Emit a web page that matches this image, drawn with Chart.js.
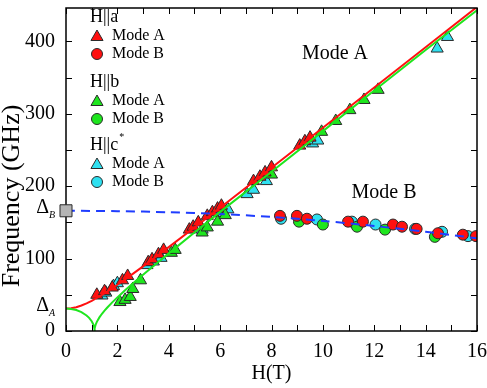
<!DOCTYPE html>
<html>
<head>
<meta charset="utf-8">
<script src="https://cdn.jsdelivr.net/npm/chart.js@4/dist/chart.umd.min.js"></script>
<style>
html,body{margin:0;padding:0;background:#fff}
#probe{font-family:'Liberation Serif';position:absolute;left:-999px;top:0}
</style>
</head>
<body>
<span id="probe">Mode A 0123</span>
<canvas id="chart" width="487" height="388"></canvas>
<script>

const FONT = "'Liberation Serif', 'Times New Roman', Tinos, 'DejaVu Serif', serif"

// H||a
const aModeA_H = [1.2,1.5,1.8,2.2,2.4,3.2,3.35,3.6,3.8,4.8,4.95,5.15,5.5,5.7,5.9,6.05,7.3,7.55,7.75,8.0,9.1,9.3,9.5]
const aModeA_F = [50,55,60,70,76,95,99,106,112,140,144,150,159,164,169,173,207,213,219,226,256,262,267]
const aModeB_H = [8.33,8.99,9.38,10.98,11.56,12.73,13.08,13.65,14.48,15.45,15.96]
const aModeB_F = [159,159,155,151,151,147,144,141,135,133,131]

// H||b
const bModeA_H = [2.1,2.3,2.5,2.6,2.9,4.1,4.25,5.3,5.5,5.9,6.2,8.0,9.95,10.5,11.05,11.6,12.15]
const bModeA_F = [40,43,47,58,70,108,112,136,143,151,160,216,275,290,305,319,333]
const bModeB_H = [9.07,10.0,11.33,12.42,14.36]
const bModeB_F = [151,147,144,140,130]

// H||c*
const cModeA_H = [1.4,1.55,1.85,2.0,3.15,3.4,3.7,5.3,6.0,6.3,7.05,7.3,7.8,9.6,9.8,14.45,14.85]
const cModeA_F = [49,53,62,66,91,96,101,140,163,168,189,195,207,259,263,390,406]
const cModeB_H = [8.37,9.77,11.13,12.05,13.59,14.64,15.65]
const cModeB_F = [155,154,151,147,141,137,131]

// fitted curves
const redFit_H = [0,0.2,0.4,0.6,0.8,1.0,1.2,1.4,1.6,1.8,2.0,2.3,2.6,3,3.5,4,5,6,8,10,12,14,16]
const redFit_F = [31,31.5,32.9,35.2,38.2,41.7,45.6,49.9,54.3,59,63.8,71.3,78.9,89.2,102.5,115.8,142.9,170.2,225.3,280.7,336.2,391.8,447.4]
const greenFit_H = [0,0.2,0.4,0.6,0.8,0.9,1.0,1.05,1.08,1.1,1.111,1.12,1.15,1.2,1.3,1.4,1.5,1.6,1.8,2.0,2.3,2.6,3,3.5,4,5,6,8,10,12,14,16]
const greenFit_F = [31,30.5,28.9,26.1,21.5,18.2,13.5,10.1,7.3,4.4,0,3.9,8.3,12.6,18.8,23.8,28.1,32.1,39.5,46.4,56.2,65.6,77.7,92.6,107.2,136,164.5,220,276,332,388,443]
const blueFit_H = [0,2,4,6,8,10,12,14,16]
const blueFit_F = [166,165.5,164,161.5,157.5,152,145,137,128]

const deltaA = 31
const deltaB = 166

const xLabels = [0,2,4,6,8,10,12,14,16]
const yLabels = [0,100,200,300,400]

const RED = '#ff1010'
const GREEN = '#1ee61e'
const CYAN = '#2ee0f0'
const BLUE = '#1f3dff'
const EDGE = '#2a2a2a'

function pts(xs,ys){
return xs.map((x,i)=>({x:x,y:ys[i]}))
}

function markers(label,xs,ys,color,style,r){
return {
label:label,
data:pts(xs,ys),
backgroundColor:color,
borderColor:EDGE,
borderWidth:1,
pointStyle:style,
pointRadius:r,
showLine:false,
order:2
}
}

function curve(label,xs,ys,color,dash,tension){
return {
label:label,
data:pts(xs,ys),
borderColor:color,
borderWidth:2,
borderDash:dash,
pointRadius:0,
showLine:true,
tension:tension,
fill:false,
order:1
}
}

function drawMarker(ctx,style,color,x,y,r){
ctx.fillStyle = color
ctx.strokeStyle = EDGE
ctx.lineWidth = 1
Chart.helpers.drawPoint(ctx,{pointStyle:style,radius:r,rotation:0,borderWidth:1},x,y)
}

const decor = {
id:'decor',
afterDatasetsDraw(chart){
const ctx = chart.ctx
const a = chart.chartArea
const x = chart.scales.x
const y = chart.scales.y
ctx.save()
ctx.strokeStyle = '#000'
ctx.lineWidth = 1
for(let v=0; v<=16; v++){
let px = Math.round(x.getPixelForValue(v))+0.5
ctx.beginPath()
ctx.moveTo(px,a.bottom); ctx.lineTo(px,a.bottom-6)
ctx.moveTo(px,a.top); ctx.lineTo(px,a.top+6)
ctx.stroke()
}
for(let v=0; v<=y.max; v+=50){
let py = Math.round(y.getPixelForValue(v))+0.5
ctx.beginPath()
ctx.moveTo(a.left,py); ctx.lineTo(a.left+6,py)
ctx.moveTo(a.right,py); ctx.lineTo(a.right-6,py)
ctx.stroke()
}
ctx.lineWidth = 1.5
ctx.strokeRect(a.left,a.top,a.right-a.left,a.bottom-a.top)

// gray marker for delta B sits on the axis
drawMarker(ctx,'rect','#b4b4b4',x.getPixelForValue(0),y.getPixelForValue(deltaB),8.5)
ctx.restore()
},
afterDraw(chart){
const ctx = chart.ctx
const a = chart.chartArea
const y = chart.scales.y
ctx.save()
ctx.fillStyle = '#000'
ctx.textBaseline = 'middle'

// delta labels on the y axis
const dl = [[deltaA,'A'],[deltaB,'B']]
dl.forEach(d=>{
let py = y.getPixelForValue(d[0])
ctx.font = '20px '+FONT
ctx.textAlign = 'right'
ctx.fillText('Δ',49,py-3)
ctx.font = 'italic 10px '+FONT
ctx.textAlign = 'left'
ctx.fillText(d[1],49,py+5)
})

// annotations
ctx.font = '20px '+FONT
ctx.textAlign = 'center'
ctx.fillText('Mode A',335,54)
ctx.fillText('Mode B',384,193)

// axis titles
ctx.fillText('H(T)',(a.left+a.right)/2,374)
ctx.save()
ctx.translate(12,196)
ctx.rotate(-Math.PI/2)
ctx.font = '26px '+FONT
ctx.fillText('Frequency (GHz)',0,0)
ctx.restore()

// legend
const groups = [
['H||a',RED,17],
['H||b',GREEN,82],
['H||c',CYAN,145]
]
groups.forEach((g,i)=>{
ctx.textAlign = 'left'
ctx.font = '18px '+FONT
ctx.fillText(g[0],90,g[2])
if(i===2){
let w = ctx.measureText(g[0]).width
ctx.font = '10px '+FONT
ctx.fillText('*',90+w+1,g[2]-8)
}
drawMarker(ctx,'triangle',g[1],97,g[2]+20,7)
drawMarker(ctx,'circle',g[1],97,g[2]+37,5.5)
ctx.fillStyle = '#000'
ctx.font = '16px '+FONT
ctx.fillText('Mode A',112,g[2]+19)
ctx.fillText('Mode B',112,g[2]+37)
})
ctx.restore()
}
}

function drawChart(){
new Chart(document.getElementById('chart'),{
type:'scatter',
data:{
datasets:[
markers('H||a Mode A',aModeA_H,aModeA_F,RED,'triangle',7),
markers('H||b Mode A',bModeA_H,bModeA_F,GREEN,'triangle',7),
markers('H||c* Mode A',cModeA_H,cModeA_F,CYAN,'triangle',7),
markers('H||a Mode B',aModeB_H,aModeB_F,RED,'circle',5.5),
markers('H||b Mode B',bModeB_H,bModeB_F,GREEN,'circle',5.5),
markers('H||c* Mode B',cModeB_H,cModeB_F,CYAN,'circle',5.5),
curve('fit b',greenFit_H,greenFit_F,GREEN,[],0),
curve('fit a',redFit_H,redFit_F,RED,[],0),
curve('gap',blueFit_H,blueFit_F,BLUE,[9,6],0.3)
]
},
options:{
responsive:false,
animation:false,
devicePixelRatio:1,
layout:{padding:{top:3,right:10,left:0,bottom:0}},
plugins:{legend:{display:false},tooltip:{enabled:false}},
scales:{
x:{
type:'linear',
min:0,
max:16,
grid:{display:false,drawTicks:false},
border:{display:false},
afterFit(scale){
scale.height = 57
scale.paddingLeft = 0
scale.paddingRight = 0
},
ticks:{
stepSize:1,
padding:9,
color:'#000',
maxRotation:0,
autoSkip:false,
font:{family:FONT,size:20},
callback:v=> xLabels.includes(v) ? String(v) : ''
}
},
y:{
type:'linear',
min:0,
max:446,
grid:{display:false,drawTicks:false},
border:{display:false},
afterFit(scale){
scale.width = 66
scale.paddingTop = 0
scale.paddingBottom = 0
},
ticks:{
stepSize:50,
padding:11,
color:'#000',
autoSkip:false,
font:{family:FONT,size:20},
callback:v=> yLabels.includes(v) ? String(v) : ''
}
}
}
},
plugins:[decor]
})
}

Promise.all([
document.fonts.load("20px 'Liberation Serif'"),
document.fonts.load("italic 10px 'Liberation Serif'")
]).then(drawChart,drawChart)

</script>
</body>
</html>
